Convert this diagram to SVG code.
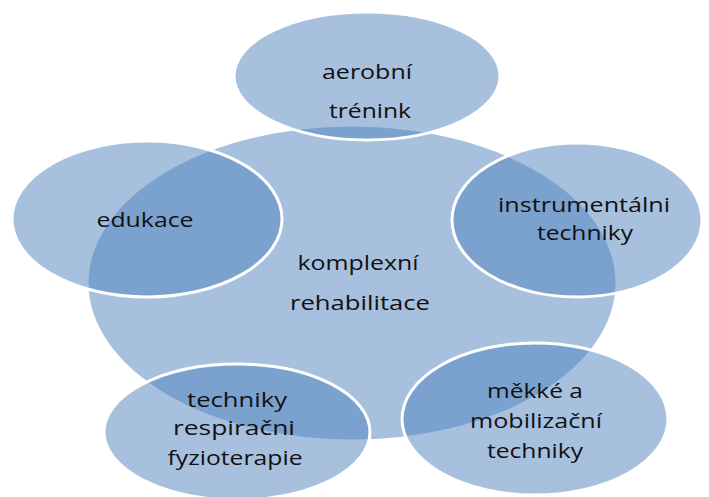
<svg xmlns="http://www.w3.org/2000/svg" width="709" height="497" viewBox="0 0 709 497">
<style>
.n{fill:#4f81bd;fill-opacity:0.5;stroke:#ffffff;stroke-width:3}
text{font-family:"Open Sans","Noto Sans","Liberation Sans",sans-serif;font-size:20px;fill:#111111;text-anchor:middle}
</style>
<rect width="709" height="497" fill="#ffffff"/>
<g id="connectors"></g>
<g id="center"><ellipse class="n" cx="352" cy="283" rx="265" ry="158"/>
<text x="358" y="270" textLength="121" lengthAdjust="spacingAndGlyphs">komplexní</text>
<text x="360" y="310" textLength="140" lengthAdjust="spacingAndGlyphs">rehabilitace</text></g>
<g id="aerobni"><ellipse class="n" cx="367" cy="76" rx="133" ry="64"/>
<text x="367" y="79" textLength="90" lengthAdjust="spacingAndGlyphs">aerobní</text>
<text x="370" y="118" textLength="82" lengthAdjust="spacingAndGlyphs">trénink</text></g>
<g id="edukace"><ellipse class="n" cx="147" cy="219" rx="135" ry="78"/>
<text x="145" y="227" textLength="97" lengthAdjust="spacingAndGlyphs">edukace</text></g>
<g id="instrumentalni"><ellipse class="n" cx="577" cy="220" rx="125" ry="77"/>
<text x="584" y="212" textLength="172" lengthAdjust="spacingAndGlyphs">instrumentálni</text>
<text x="585" y="240" textLength="96" lengthAdjust="spacingAndGlyphs">techniky</text></g>
<g id="mekke"><ellipse class="n" cx="535" cy="419" rx="133" ry="76"/>
<text x="535" y="398" textLength="96" lengthAdjust="spacingAndGlyphs">měkké a</text>
<text x="536" y="428" textLength="132" lengthAdjust="spacingAndGlyphs">mobilizační</text>
<text x="535" y="458" textLength="96" lengthAdjust="spacingAndGlyphs">techniky</text></g>
<g id="respiracni"><ellipse class="n" cx="237" cy="432" rx="133" ry="68"/>
<text x="237" y="407" textLength="100" lengthAdjust="spacingAndGlyphs">techniky</text>
<text x="234" y="435" textLength="122" lengthAdjust="spacingAndGlyphs">respiračni</text>
<text x="235" y="465" textLength="135" lengthAdjust="spacingAndGlyphs">fyzioterapie</text></g>
</svg>
